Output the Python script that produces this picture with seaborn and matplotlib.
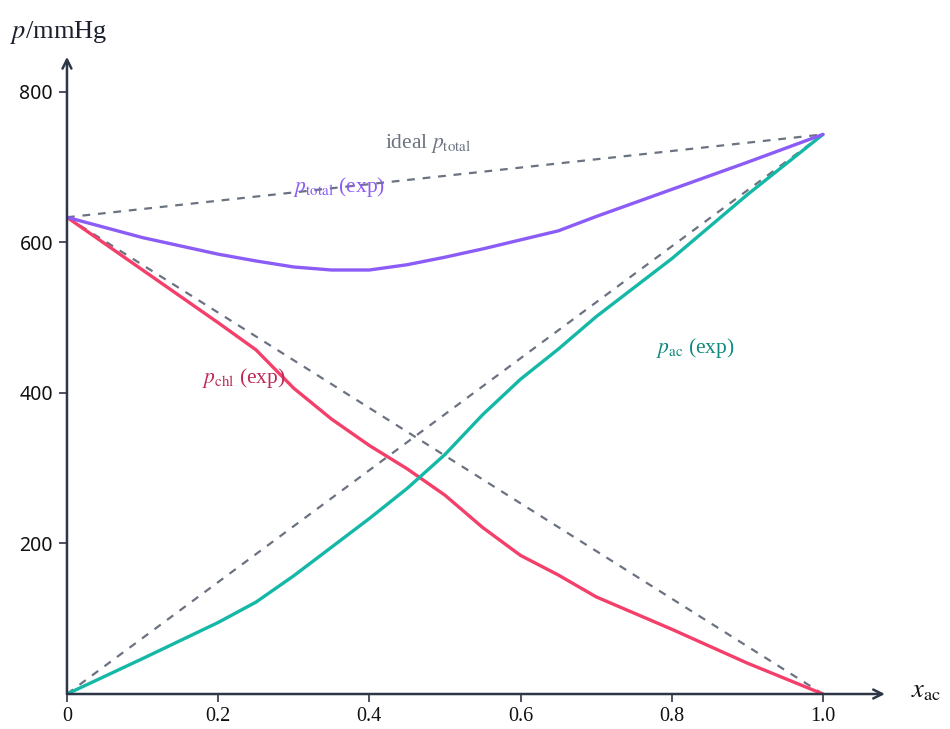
import matplotlib
matplotlib.use("Agg")
import matplotlib.pyplot as plt
import seaborn as sns
import pandas as pd

# mole fraction of acetone and vapour pressures (mmHg)
x_ac = [0, 0.1, 0.2, 0.25, 0.3, 0.35, 0.4, 0.45, 0.5, 0.55, 0.6, 0.65, 0.7, 0.8, 0.9, 1.0]
p_chl = [633, 563, 493, 457, 406, 365, 330, 299, 264, 221, 184, 158, 129, 86, 41, 0]
p_ac = [0, 47, 95, 122, 157, 195, 233, 273, 318, 371, 418, 458, 501, 578, 663, 743]
p_total = [633, 606, 584, 575, 567, 563, 563, 570, 580, 591, 603, 615, 634, 670, 706, 743]

p_chl_pure = 633
p_ac_pure = 743

x_ticks = [0, 0.2, 0.4, 0.6, 0.8, 1.0]
x_ticklabels = ["0", "0.2", "0.4", "0.6", "0.8", "1.0"]
y_ticks = [200, 400, 600, 800]

df = pd.DataFrame({"x": x_ac, "chl": p_chl, "ac": p_ac, "total": p_total})
ideal = pd.DataFrame({"x": [0, 1.0],
                      "chl": [p_chl_pure, 0],
                      "ac": [0, p_ac_pure],
                      "total": [p_chl_pure, p_ac_pure]})

sns.set_style("white")
plt.rcParams["font.family"] = ["Liberation Serif", "DejaVu Serif"]
plt.rcParams["mathtext.fontset"] = "stix"

axis_col = "#2d3748"
dash_col = "#6b7280"
red = "#f43f6b"
teal = "#14b8a6"
purple = "#8b5cf6"

fig = plt.figure(figsize=(9.5, 7.29), dpi=100)
ax = fig.add_axes([0.0705, 0.048, 0.861, 0.874])

for col in ["chl", "ac", "total"]:
    sns.lineplot(data=ideal, x="x", y=col, ax=ax, color=dash_col, lw=1.6,
                 linestyle=(0, (3.5, 3.5)), zorder=2)
sns.lineplot(data=df, x="x", y="chl", ax=ax, color=red, lw=2.4, zorder=3)
sns.lineplot(data=df, x="x", y="ac", ax=ax, color=teal, lw=2.4, zorder=3)
sns.lineplot(data=df, x="x", y="total", ax=ax, color=purple, lw=2.4, zorder=3)

ax.set_xlim(0, 1.082)
ax.set_ylim(0, 846)
for s in ax.spines.values():
    s.set_visible(False)

# axes drawn as arrows
ax.annotate("", xy=(1.0, 0), xytext=(0, 0), xycoords="axes fraction",
            arrowprops=dict(arrowstyle="->", color=axis_col, lw=1.8,
                            mutation_scale=16, shrinkA=0, shrinkB=0))
ax.annotate("", xy=(0, 1.0), xytext=(0, 0), xycoords="axes fraction",
            arrowprops=dict(arrowstyle="->", color=axis_col, lw=1.8,
                            mutation_scale=16, shrinkA=0, shrinkB=0))

ax.set_xticks(x_ticks)
ax.set_xticklabels(x_ticklabels)
ax.set_yticks(y_ticks)
ax.tick_params(axis="both", direction="out", length=6, width=1.2, color=axis_col,
               labelcolor="#111111", left=True, bottom=True)
ax.tick_params(axis="x", labelsize=14.5, pad=3)
ax.tick_params(axis="y", labelsize=14, pad=4)
for lab in ax.get_yticklabels():
    lab.set_family(["Noto Sans", "DejaVu Sans"])
ax.set_xlabel("")
ax.set_ylabel("")

ax.text(1.032, 3, r"$x_{\rm ac}$", fontsize=19, color="#111111",
        va="center", ha="left", transform=ax.get_yaxis_transform(), clip_on=False)
fig.text(0.011, 0.955, r"$p$/mmHg", fontsize=19, color="#1a202c", ha="left", va="center")

ax.text(0.478, 731, r"ideal $p_{\rm total}$", fontsize=15.5, color=dash_col, ha="center", va="center")
ax.text(0.36, 673, r"$p_{\rm total}$ (exp)", fontsize=15.5, color=purple, ha="center", va="center")
ax.text(0.234, 419, r"$p_{\rm chl}$ (exp)", fontsize=15.5, color="#be2a55", ha="center", va="center")
ax.text(0.831, 459, r"$p_{\rm ac}$ (exp)", fontsize=15.5, color="#0f8a7e", ha="center", va="center")

fig.savefig("out.png", dpi=100)
